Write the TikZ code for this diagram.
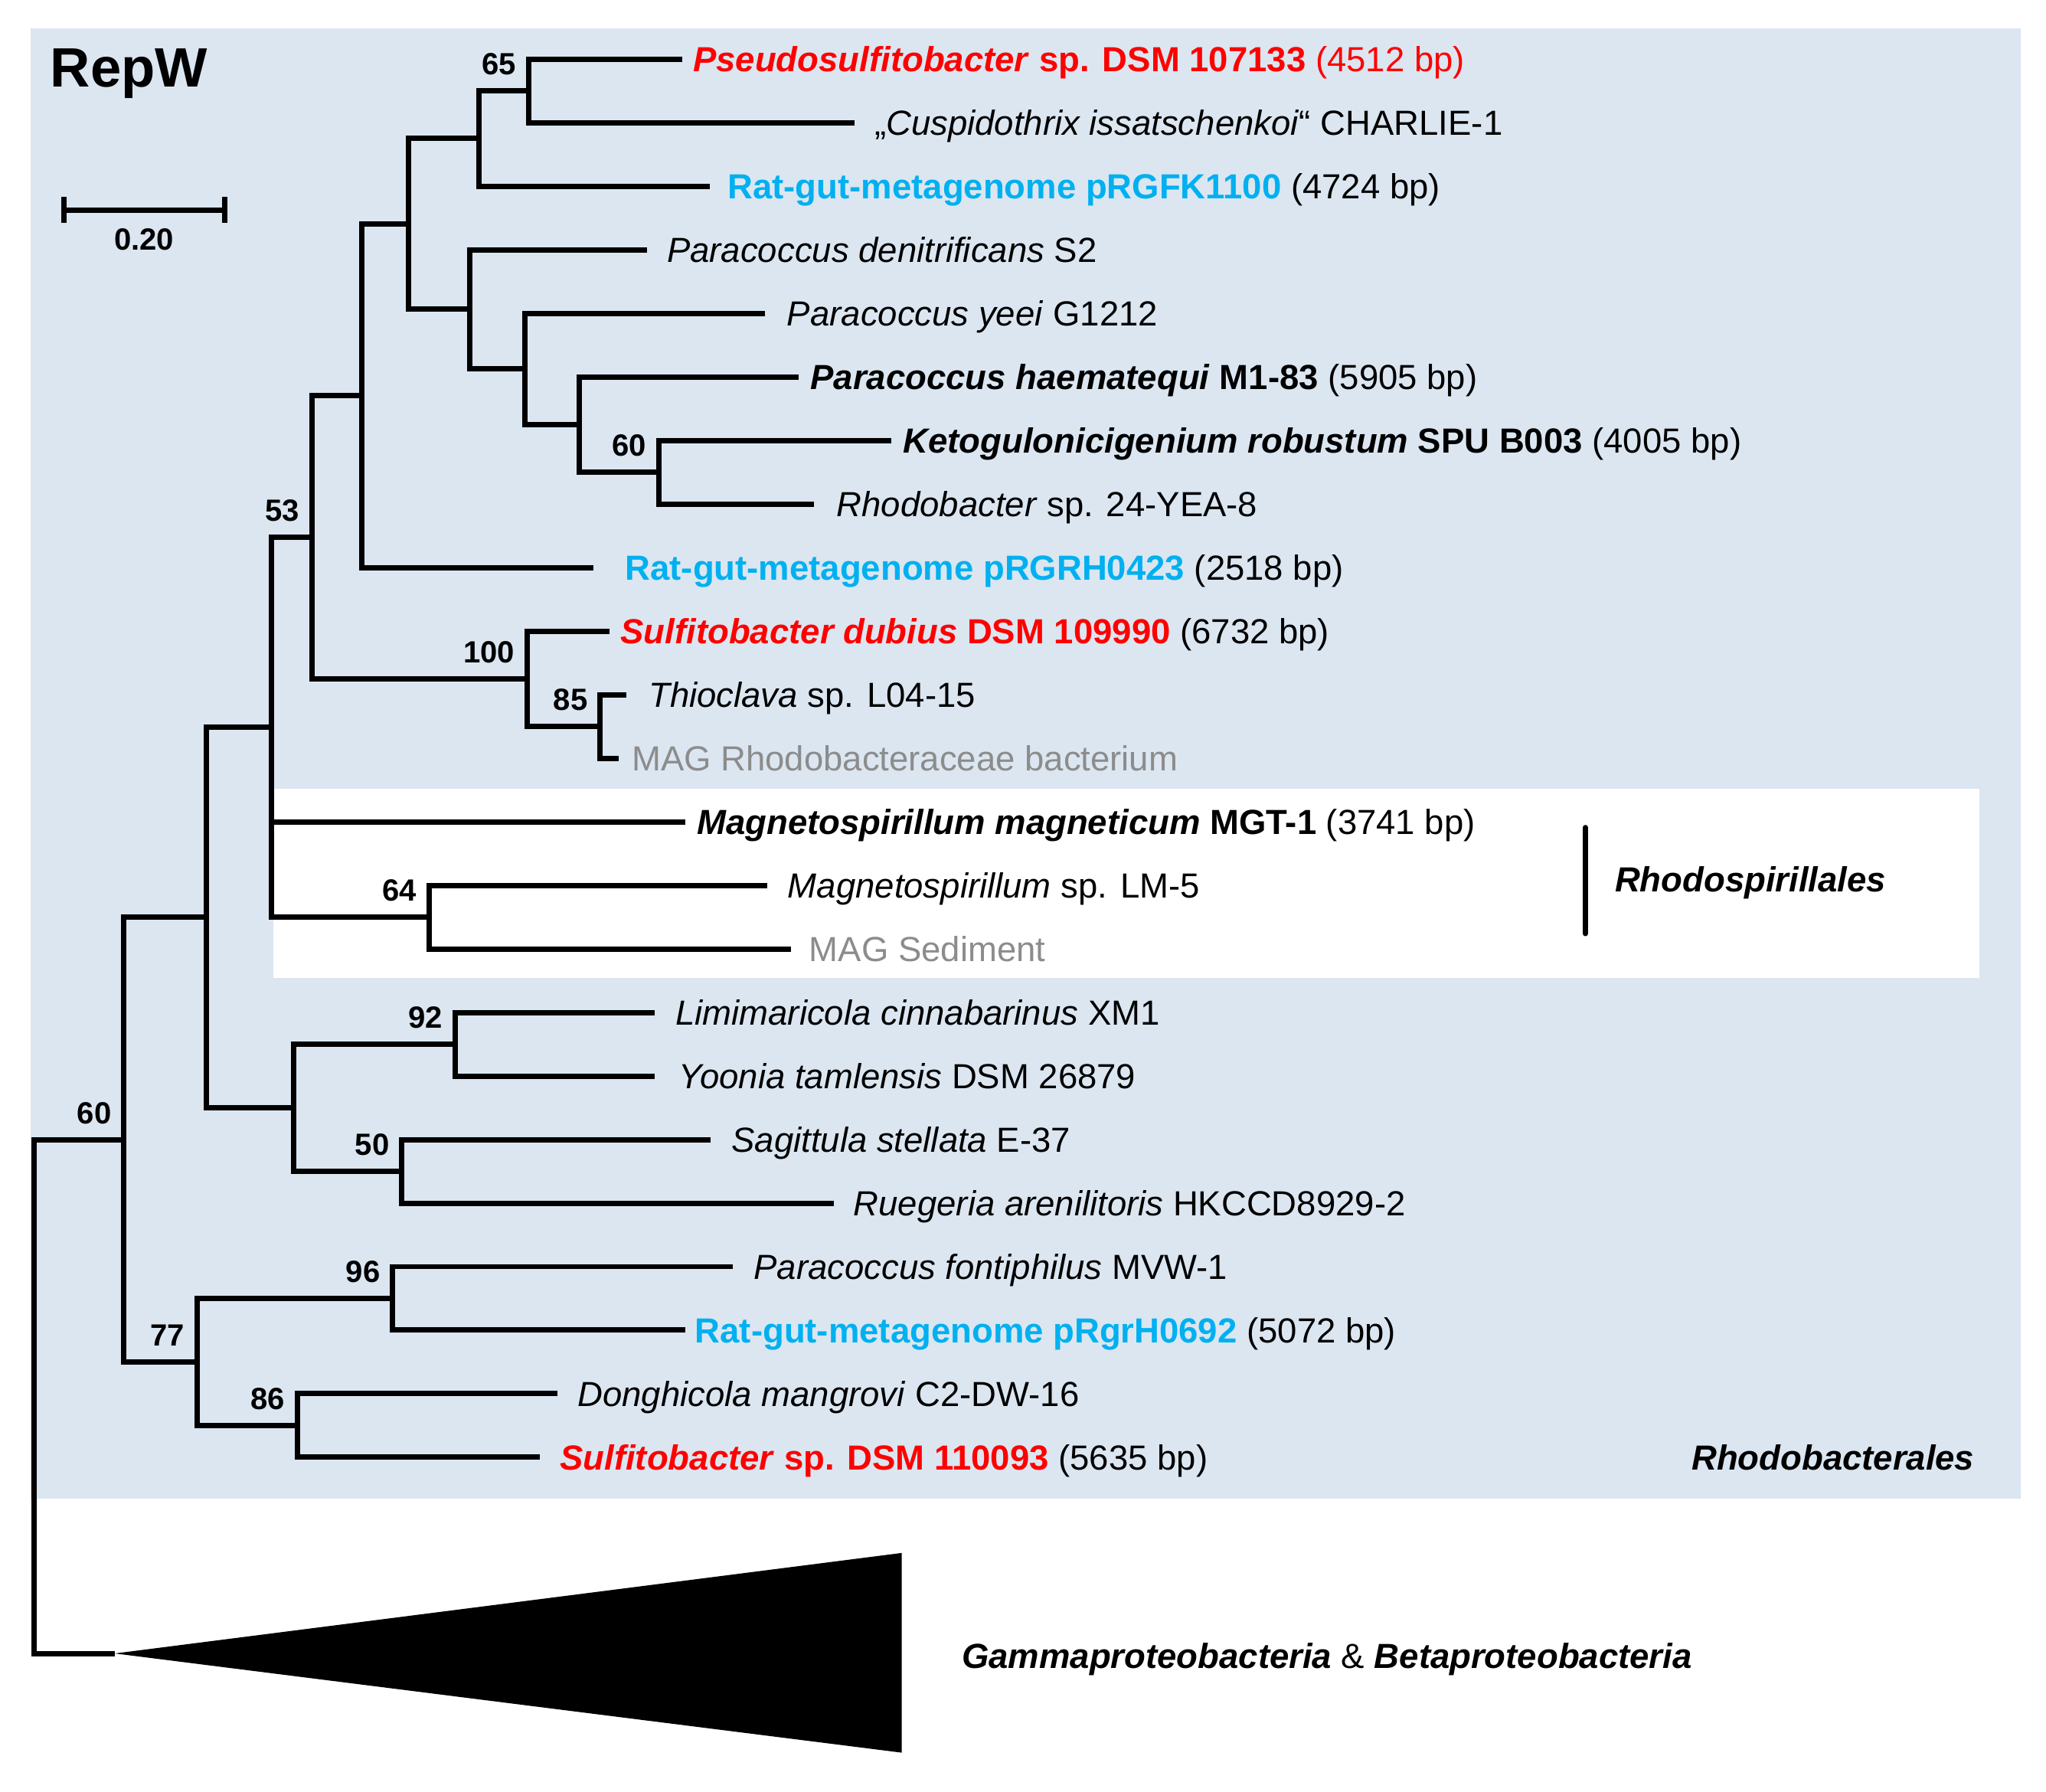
\documentclass[tikz,border=0pt]{standalone}
\usepackage{fontspec}
\setmainfont{Liberation Sans}
\usetikzlibrary{calc}
\definecolor{bgblue}{RGB}{219,230,241}
\definecolor{ratcyan}{RGB}{0,176,240}
\definecolor{magray}{RGB}{140,140,140}
\definecolor{strainred}{RGB}{255,0,0}
\newcommand{\leaffont}{\fontsize{26.7}{32}\selectfont}
\newcommand{\bootfont}{\fontsize{23.5}{28}\selectfont\bfseries}
\newcommand{\bi}[1]{\textbf{\textit{#1}}}
\begin{document}
\begin{tikzpicture}[x=1pt,y=-1pt,
  br/.style={line width=4.1pt, line join=miter},
  leaf/.style={anchor=base west, inner sep=0pt, font=\leaffont},
  boot/.style={anchor=base east, inner sep=0pt, font=\bootfont},
  clade/.style={inner sep=0pt, font=\leaffont}]
\useasboundingbox (0,0) rectangle (1568,1372.6);
% backgrounds
\fill[bgblue] (23.2,21.6) rectangle (1548.5,1148.4);
\fill[white] (209.6,604.2) rectangle (1516.8,749.6);
% internal nodes
\coordinate (root) at (26,1070.2);
\coordinate (A) at (95,873.4);
\coordinate (B) at (158,703);
\coordinate (C) at (208,557.2);
\coordinate (D) at (239,411.7);
\coordinate (E) at (277,303.2);
\coordinate (F) at (313,171.6);
\coordinate (G) at (367,106.2);
\coordinate (H) at (405,69.7);
\coordinate (I) at (360,237);
\coordinate (J) at (402,282.7);
\coordinate (K) at (444,325.3);
\coordinate (L) at (505,361.9);
\coordinate (M) at (404,520.1);
\coordinate (N) at (460,556.7);
\coordinate (O) at (329,702.8);
\coordinate (P) at (225,848.9);
\coordinate (Q) at (349,800.2);
\coordinate (R) at (308,897.6);
\coordinate (S) at (151,1043.7);
\coordinate (T) at (301,995);
\coordinate (U) at (228,1092.4);
% leaf tips
\coordinate (t1) at (523,45.3);
\coordinate (t2) at (655,94.0);
\coordinate (t3) at (544,142.7);
\coordinate (t4) at (496,191.4);
\coordinate (t5) at (586,240.1);
\coordinate (t6) at (612,288.8);
\coordinate (t7) at (683,337.5);
\coordinate (t8) at (624,386.2);
\coordinate (t9) at (455,434.9);
\coordinate (t10) at (467,483.6);
\coordinate (t11) at (480,532.3);
\coordinate (t12) at (474,581.0);
\coordinate (t13) at (525,629.7);
\coordinate (t14) at (588,678.4);
\coordinate (t15) at (606,727.1);
\coordinate (t16) at (502,775.8);
\coordinate (t17) at (502,824.5);
\coordinate (t18) at (544.5,873.2);
\coordinate (t19) at (639,921.9);
\coordinate (t20) at (561.5,970.6);
\coordinate (t21) at (525,1019.3);
\coordinate (t22) at (427,1068.0);
\coordinate (t23) at (413.5,1116.7);
\coordinate (ctip) at (88,1267);
% collapsed clade
\fill (ctip) -- (691,1190) -- (691,1343) -- cycle;
% branches
\draw[br] (root) |- (A);
\draw[br] (root) |- (ctip);
\draw[br] (A) |- (B);
\draw[br] (A) |- (S);
\draw[br] (B) |- (C);
\draw[br] (B) |- (P);
\draw[br] (C) |- (D);
\draw[br] (C) |- (t13);
\draw[br] (C) |- (O);
\draw[br] (D) |- (E);
\draw[br] (D) |- (M);
\draw[br] (E) |- (F);
\draw[br] (E) |- (t9);
\draw[br] (F) |- (G);
\draw[br] (F) |- (I);
\draw[br] (G) |- (H);
\draw[br] (G) |- (t3);
\draw[br] (H) |- (t1);
\draw[br] (H) |- (t2);
\draw[br] (I) |- (t4);
\draw[br] (I) |- (J);
\draw[br] (J) |- (t5);
\draw[br] (J) |- (K);
\draw[br] (K) |- (t6);
\draw[br] (K) |- (L);
\draw[br] (L) |- (t7);
\draw[br] (L) |- (t8);
\draw[br] (M) |- (t10);
\draw[br] (M) |- (N);
\draw[br] (N) |- (t11);
\draw[br] (N) |- (t12);
\draw[br] (O) |- (t14);
\draw[br] (O) |- (t15);
\draw[br] (P) |- (Q);
\draw[br] (P) |- (R);
\draw[br] (Q) |- (t16);
\draw[br] (Q) |- (t17);
\draw[br] (R) |- (t18);
\draw[br] (R) |- (t19);
\draw[br] (S) |- (T);
\draw[br] (S) |- (U);
\draw[br] (T) |- (t20);
\draw[br] (T) |- (t21);
\draw[br] (U) |- (t22);
\draw[br] (U) |- (t23);
% bootstrap values
\node[boot] (b65) at ($(H)+(-9.5,-12.5)$) {65};
\node[boot] (b60a) at ($(L)+(-9.5,-12.5)$) {60};
\node[boot] (b53) at ($(D)+(-9.5,-12.5)$) {53};
\node[boot] (b100) at ($(M)+(-9.5,-12.5)$) {100};
\node[boot] (b85) at ($(N)+(-9.5,-12.5)$) {85};
\node[boot] (b64) at ($(O)+(-9.5,-12.5)$) {64};
\node[boot] (b92) at ($(Q)+(-9.5,-12.5)$) {92};
\node[boot] (b50) at ($(R)+(-9.5,-12.5)$) {50};
\node[boot] (b60b) at ($(A)+(-9.5,-12.5)$) {60};
\node[boot] (b77) at ($(S)+(-9.5,-12.5)$) {77};
\node[boot] (b96) at ($(T)+(-9.5,-12.5)$) {96};
\node[boot] (b86) at ($(U)+(-9.5,-12.5)$) {86};
% leaf labels
\node[leaf] (l1) at (531,54.9) {\color{strainred}\bi{Pseudosulfitobacter} \textbf{sp. DSM 107133} (4512 bp)};
\node[leaf] (l2) at (670,103.6) {„\textit{Cuspidothrix issatschenkoi}“ CHARLIE-1};
\node[leaf] (l3) at (557.6,152.3) {\textcolor{ratcyan}{\textbf{Rat-gut-metagenome pRGFK1100}} (4724 bp)};
\node[leaf] (l4) at (511,201.0) {\textit{Paracoccus denitrificans} S2};
\node[leaf] (l5) at (603,249.7) {\textit{Paracoccus yeei} G1212};
\node[leaf] (l6) at (621,298.4) {\bi{Paracoccus haematequi} \textbf{M1-83} (5905 bp)};
\node[leaf] (l7) at (692,347.1) {\bi{Ketogulonicigenium robustum} \textbf{SPU B003} (4005 bp)};
\node[leaf] (l8) at (641,395.8) {\textit{Rhodobacter} sp. 24-YEA-8};
\node[leaf] (l9) at (479,444.5) {\textcolor{ratcyan}{\textbf{Rat-gut-metagenome pRGRH0423}} (2518 bp)};
\node[leaf] (l10) at (475.5,493.2) {\textcolor{strainred}{\bi{Sulfitobacter dubius} \textbf{DSM 109990}} (6732 bp)};
\node[leaf] (l11) at (497,541.9) {\textit{Thioclava} sp. L04-15};
\node[leaf] (l12) at (484,590.6) {\textcolor{magray}{MAG Rhodobacteraceae bacterium}};
\node[leaf] (l13) at (534,639.3) {\bi{Magnetospirillum magneticum} \textbf{MGT-1} (3741 bp)};
\node[leaf] (l14) at (603.6,688.0) {\textit{Magnetospirillum} sp. LM-5};
\node[leaf] (l15) at (620,736.7) {\textcolor{magray}{MAG Sediment}};
\node[leaf] (l16) at (517.6,785.4) {\textit{Limimaricola cinnabarinus} XM1};
\node[leaf] (l17) at (520,834.1) {\textit{Yoonia tamlensis} DSM 26879};
\node[leaf] (l18) at (560.5,882.8) {\textit{Sagittula stellata} E-37};
\node[leaf] (l19) at (654,931.5) {\textit{Ruegeria arenilitoris} HKCCD8929-2};
\node[leaf] (l20) at (577.5,980.2) {\textit{Paracoccus fontiphilus} MVW-1};
\node[leaf] (l21) at (532.5,1028.9) {\textcolor{ratcyan}{\textbf{Rat-gut-metagenome pRgrH0692}} (5072 bp)};
\node[leaf] (l22) at (442.5,1077.6) {\textit{Donghicola mangrovi} C2-DW-16};
\node[leaf] (l23) at (429,1126.3) {\textcolor{strainred}{\bi{Sulfitobacter} \textbf{sp. DSM 110093}} (5635 bp)};
% title and scale bar
\node[anchor=base west, inner sep=0pt, font=\fontsize{42.5}{50}\selectfont\bfseries] (title) at (38.5,66.8) {RepW};
\coordinate (sbl) at (49,160.8);
\coordinate (sbr) at (172,160.8);
\draw[line width=4.1pt] (sbl) -- (sbr);
\draw[line width=4.1pt] ($(sbl)+(0,-10)$) -- ($(sbl)+(0,10)$);
\draw[line width=4.1pt] ($(sbr)+(0,-10)$) -- ($(sbr)+(0,10)$);
\node[anchor=base, inner sep=0pt, font=\bootfont] (sblab) at (110.5,191.4) {0.20};
% clade labels
\coordinate (rsa) at (1215,634);
\coordinate (rsb) at (1215,715.5);
\draw[line width=3.8pt, line cap=round] (rsa) -- (rsb);
\node[clade, anchor=base west] (rsp) at (1237.4,683.4) {\bi{Rhodospirillales}};
\node[clade, anchor=base east] (rba) at (1513.2,1126.3) {\bi{Rhodobacterales}};
\node[clade, anchor=base west] (gb) at (737,1278.6) {\bi{Gammaproteobacteria} \& \bi{Betaproteobacteria}};
\end{tikzpicture}
\end{document}
